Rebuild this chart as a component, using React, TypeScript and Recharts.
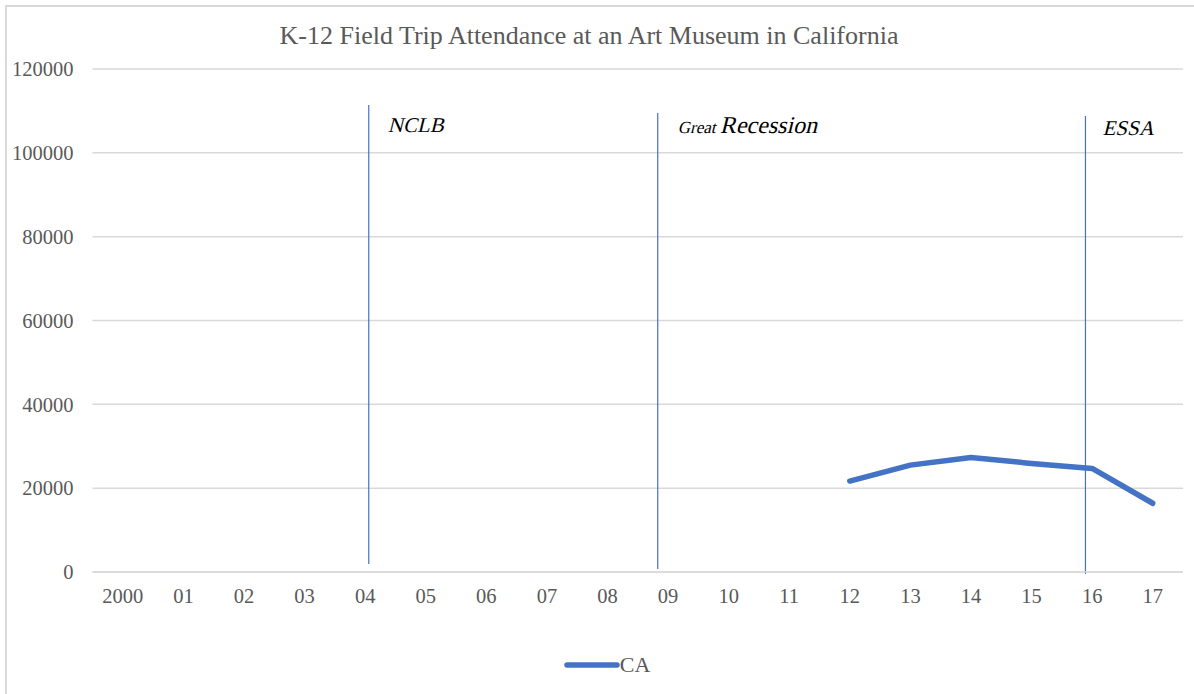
import React from 'react';
import {
  LineChart,
  Line,
  XAxis,
  YAxis,
  CartesianGrid,
  Legend,
  ReferenceLine,
} from 'recharts';

const years = ['2000', '01', '02', '03', '04', '05', '06', '07', '08', '09', '10', '11', '12', '13', '14', '15', '16', '17'];
const caValues: (number | null)[] = [null, null, null, null, null, null, null, null, null, null, null, null, 21700, 25500, 27300, 25900, 24700, 16400];
const yTicks = [0, 20000, 40000, 60000, 80000, 100000, 120000];

// policy markers: position on the year axis, vertical extent, label pieces
const markerX = [4.06, 8.83, 15.89];
const markerTop = [111400, 109500, 108800];
const markerBottom = [1900, 700, -500];
const markerLabels = [
  [{ text: 'NCLB', size: 21 }],
  [{ text: 'Great ', size: 17 }, { text: 'Recession', size: 24 }],
  [{ text: 'ESSA', size: 21 }],
];
const labelOffsets = [
  { dx: 19, dy: 27 },
  { dx: 20, dy: 20 },
  { dx: 17, dy: 19 },
];

const FONT = "'Liberation Serif', 'Times New Roman', serif";
const BLUE = '#4472C4';
const GRID = '#d9d9d9';
const TEXT = '#595959';

const rows = years.map((y, i) => ({ idx: i, year: y, ca: caValues[i] }));

// serif italic is faked with a skew
const noteLabel = (i: number) => (props: any) => {
  const vb = props.viewBox || {};
  const x = vb.x ?? 0;
  const top = Math.min(vb.y ?? 0, (vb.y ?? 0) + (vb.height ?? 0));
  return (
    <g transform={`translate(${x + labelOffsets[i].dx}, ${top + labelOffsets[i].dy}) skewX(-14)`}>
      <text x={0} y={0} fill="#000" style={{ fontFamily: FONT, fontStyle: 'normal' }}>
        {markerLabels[i].map((p, j) => (
          <tspan key={j} style={{ fontFamily: FONT, fontSize: p.size, fontStyle: 'normal' }}>
            {p.text}
          </tspan>
        ))}
      </text>
    </g>
  );
};

const renderLegend = () => (
  <div style={{ display: 'flex', justifyContent: 'center', alignItems: 'center', paddingLeft: 24, fontFamily: FONT }}>
    <svg width={56} height={10}>
      <line x1={3} y1={5} x2={53} y2={5} stroke={BLUE} strokeWidth={5.5} strokeLinecap="round" />
    </svg>
    <span style={{ fontSize: 22, color: TEXT }}>CA</span>
  </div>
);

export default function App() {
  return (
    <div
      style={{
        position: 'fixed',
        left: 5,
        top: 5,
        width: 1187,
        height: 687,
        borderLeft: `2px solid ${GRID}`,
        borderTop: `2px solid ${GRID}`,
        background: '#fff',
        fontFamily: FONT,
      }}
    >
      <div
        style={{
          position: 'absolute',
          left: 0,
          top: 16,
          width: 1164,
          textAlign: 'center',
          fontSize: 26,
          lineHeight: '26px',
          color: TEXT,
        }}
      >
        K-12 Field Trip Attendance at an Art Museum in California
      </div>
      <LineChart width={1187} height={687} data={rows} margin={{ top: 62, right: 11, left: 0, bottom: 12 }}>
        <CartesianGrid vertical={false} stroke={GRID} strokeWidth={1.5} />
        <XAxis
          dataKey="idx"
          type="number"
          domain={[-0.5, 17.5]}
          ticks={years.map((_, i) => i)}
          tickFormatter={(v: number) => years[v]}
          interval={0}
          height={80}
          tickLine={false}
          tickSize={0}
          tickMargin={16}
          axisLine={{ stroke: GRID, strokeWidth: 1.5 }}
          tick={{ fill: TEXT, fontSize: 20.5, fontFamily: FONT }}
        />
        <YAxis
          domain={[0, 120000]}
          ticks={yTicks}
          width={85.5}
          axisLine={false}
          tickLine={false}
          tickSize={0}
          tickMargin={19}
          tick={{ fill: TEXT, fontSize: 20.5, fontFamily: FONT }}
        />
        {markerX.map((x, i) => (
          <ReferenceLine
            key={i}
            segment={[
              { x, y: markerTop[i] },
              { x, y: markerBottom[i] },
            ]}
            stroke={BLUE}
            strokeWidth={1.2}
            ifOverflow="visible"
            label={noteLabel(i)}
          />
        ))}
        <Line
          type="linear"
          dataKey="ca"
          name="CA"
          stroke={BLUE}
          strokeWidth={5.5}
          strokeLinecap="round"
          strokeLinejoin="round"
          dot={false}
          activeDot={false}
          isAnimationActive={false}
        />
        <Legend verticalAlign="bottom" height={30} content={renderLegend} />
      </LineChart>
    </div>
  );
}
